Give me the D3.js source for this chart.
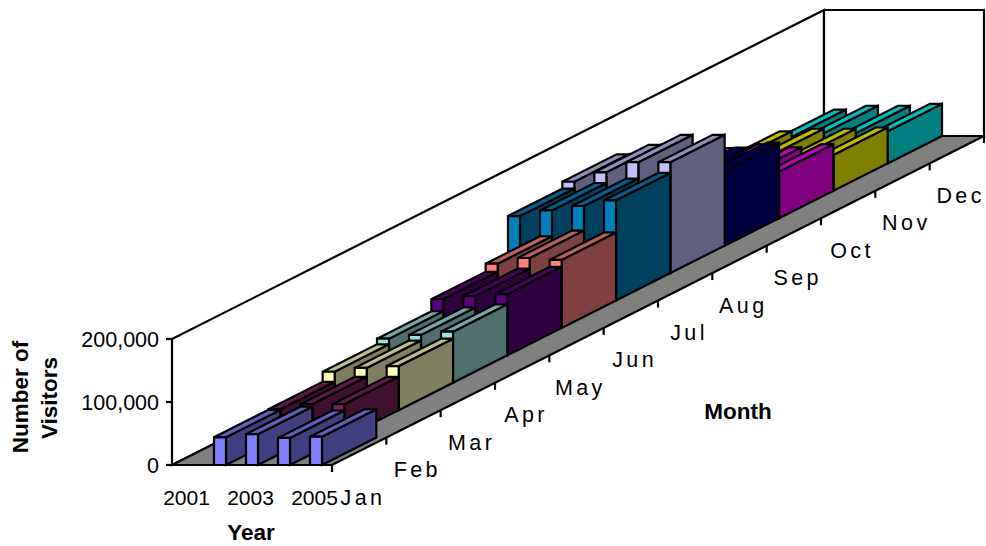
<!DOCTYPE html>
<html><head><meta charset="utf-8">
<style>html,body{margin:0;padding:0;background:#fff}svg{display:block}text{font-family:"Liberation Sans",Arial,sans-serif;fill:#000}</style>
<script src="https://cdn.jsdelivr.net/npm/d3@7"></script></head>
<body><svg id="c" width="986" height="546"></svg>
<script>
const years = ["2001","2002","2003","2004","2005"];
const yearLabels = ["2001","2003","2005"];
const months = ["Jan","Feb","Mar","Apr","May","Jun","Jul","Aug","Sep","Oct","Nov","Dec"];
const monthColors = ["#8080FF","#802060","#FFFFC0","#A0E0E0","#600080","#FF8080","#0080C0","#C0C0FF","#000080","#FF00FF","#FFFF00","#00FFFF"];
const yTicks = [0,100000,200000];
// visitors per month, one list per year (null = no data)
const v2001 = [null,null,null,null,null,null,134000,145000,110000,68000,51000,42000];
const v2002 = [44000,45000,61000,70000,89000,102000,143000,160000,112000,74000,55000,48000];
const v2003 = [49000,53000,67000,76000,94000,111000,150000,176000,112000,69000,55000,48000];
const v2004 = [43000,53000,70000,81000,97000,108000,159000,176000,120000,74000,57000,51000];
const v2005 = [45000,null,null,null,null,null,null,null,null,null,null,null];
const series = [v2001,v2002,v2003,v2004,v2005];

const svg = d3.select("#c");
const x = d3.scaleBand().domain(years).range([172,332]);
const barW = 12;
const depthX = d3.scaleLinear().domain([0,12]).range([0,652]);
const depthY = d3.scaleLinear().domain([0,12]).range([465,136]);
const h = d3.scaleLinear().domain([0,200000]).range([0,126]);
const line = d3.line();
const P = (px,m,val=0)=>[px+depthX(m), depthY(m)-h(val)];
function poly(g,pts,fill){
  return g.append("path").attr("d",line(pts)+"Z").attr("fill",fill)
   .attr("stroke","#000").attr("stroke-width",2.2).attr("stroke-linejoin","miter");
}
const L = x.range()[0], R = x.range()[1];
// walls
poly(svg,[P(L,0,200000),P(L,12,200000),P(L,12,0),P(L,0,0)],"#fff");
poly(svg,[P(L,12,200000),P(R,12,200000),P(R,12,0),P(L,12,0)],"#fff");
// floor
poly(svg,[P(L,0),P(R,0),P(R,12),P(L,12)],"#808080");
// value axis
yTicks.forEach(t=>{
  const [px,py]=P(L,0,t);
  svg.append("line").attr("x1",px-6).attr("x2",px).attr("y1",py).attr("y2",py).attr("stroke","#000").attr("stroke-width",2.2);
  svg.append("text").attr("x",px-13).attr("y",py+8).attr("text-anchor","end").attr("font-size",21.5).text(d3.format(",")(t));
});
// month ticks + labels
d3.range(0,13).forEach(m=>{
  const [px,py]=P(R,m);
  svg.append("line").attr("x1",px).attr("x2",px).attr("y1",py).attr("y2",py+7).attr("stroke","#000").attr("stroke-width",2.2);
});
months.forEach((mn,m)=>{
  const [px,py]=P(R,m);
  svg.append("text").attr("x",px+31).attr("y",py+39.5).attr("text-anchor","middle")
    .attr("font-size",21.5).attr("letter-spacing",3.4).text(mn);
});
// bars: back to front, left to right
for(let m=months.length-1;m>=0;m--){
  const c=d3.color(monthColors[m]);
  const shade=k=>d3.rgb(c.r*k,c.g*k,c.b*k).formatHex();
  const g=svg.append("g");
  years.forEach((yr,s)=>{
    const val=series[s][m];
    if(val==null) return;
    const x0=x(yr)+(x.bandwidth()-barW)/2, x1=x0+barW;
    poly(g,[P(x1,m,0),P(x1,m+1,0),P(x1,m+1,val),P(x1,m,val)],shade(.5));
    poly(g,[P(x0,m,val),P(x1,m,val),P(x1,m+1,val),P(x0,m+1,val)],shade(.75));
    poly(g,[P(x0,m,0),P(x1,m,0),P(x1,m,val),P(x0,m,val)],shade(1));
  });
}
// year labels
yearLabels.forEach(y=>{
  svg.append("text").attr("x",x(y)+x.bandwidth()/2-1.5).attr("y",505).attr("text-anchor","middle").attr("font-size",21).text(y);
});
// titles
const bold=(t,xx,yy,rot)=>{
  const e=svg.append("text").attr("font-weight","bold").attr("font-size",22.5).attr("text-anchor","middle").text(t);
  if(rot) e.attr("transform",`translate(${xx},${yy}) rotate(-90)`); else e.attr("x",xx).attr("y",yy);
};
bold("Year",251,540);
bold("Month",738,419);
bold("Number of",28,397,true);
bold("Visitors",57,398,true);
</script></body></html>
